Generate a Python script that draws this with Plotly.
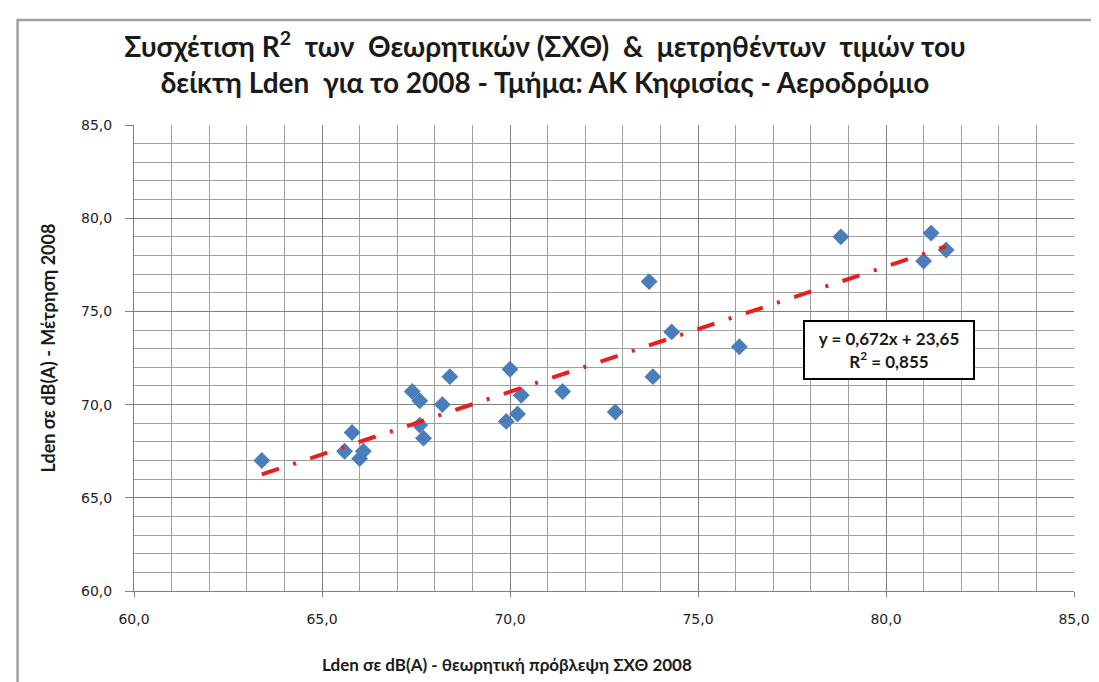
import plotly.graph_objects as go

# theoretical prediction (x) vs measured (y), Lden 2008
x_theory = [63.4, 65.6, 65.8, 66.0, 66.1, 67.4, 67.6, 67.6, 67.7, 68.2,
            68.4, 69.9, 70.0, 70.2, 70.3, 71.4, 72.8, 73.7, 73.8, 74.3,
            76.1, 78.8, 81.0, 81.2, 81.6]
y_measured = [67.0, 67.5, 68.5, 67.1, 67.5, 70.7, 70.2, 68.9, 68.2, 70.0,
              71.5, 69.1, 71.9, 69.5, 70.5, 70.7, 69.6, 76.6, 71.5, 73.9,
              73.1, 79.0, 77.7, 79.2, 78.3]

slope = 0.672
intercept = 23.65
r2 = 0.855

tick_vals = [60, 65, 70, 75, 80, 85]

# plot area in page pixels
W, H = 1099, 682
L, R, T, B = 125.5, 1066, 117, 583


def px(x):
    return (x - L) / (R - L)


def py(y):
    return (B - y) / (B - T)


x_line = [min(x_theory), max(x_theory)]
y_line = [slope * v + intercept for v in x_line]

fig = go.Figure()

fig.add_trace(go.Scatter(
    x=x_theory, y=y_measured, mode='markers',
    marker=dict(symbol='diamond', size=13, color='#4a7ebb'),
    showlegend=False
))

fig.add_trace(go.Scatter(
    x=x_line, y=y_line, mode='lines',
    line=dict(color='#ee1c1c', width=4, dash='18px,15px,3px,15px'),
    showlegend=False
))

axis_common = dict(
    range=[60, 85],
    tickvals=tick_vals,
    tickformat='.1f',
    showgrid=True,
    gridcolor='#808080',
    gridwidth=1,
    minor=dict(dtick=1, showgrid=True, gridcolor='#a0a0a0', gridwidth=1),
    showline=True,
    linecolor='#808080',
    linewidth=1,
    ticks='outside',
    tickcolor='#808080',
    tickfont=dict(family='DejaVu Sans', size=14, color='#1e1e1e'),
    zeroline=False,
    mirror=False,
)

fig.update_xaxes(**axis_common, ticklen=5, ticklabelstandoff=10)
fig.update_yaxes(**axis_common, ticklen=8, ticklabelstandoff=10)

nb = '\u00a0'
title_text = (f'Συσχέτιση R<sup>2</sup>{nb} των{nb} Θεωρητικών (ΣΧΘ){nb} &{nb} '
              f'μετρηθέντων{nb} τιμών του<br>'
              f'δείκτη Lden{nb} για το 2008 - Τμήμα: ΑΚ Κηφισίας - Αεροδρόμιο')

fig.update_layout(
    width=W, height=H,
    margin=dict(l=L, r=W - R, t=T, b=H - B),
    paper_bgcolor='white',
    plot_bgcolor='white',
    separators=',.',
    title=dict(
        text=title_text,
        x=537 / W, xanchor='center',
        y=1 - 49 / H, yanchor='middle',
        font=dict(family='Lato', size=28, color='#1a1a1a', weight='bold'),
    ),
    shapes=[dict(
        type='rect', xref='paper', yref='paper',
        x0=px(9), y0=py(12), x1=px(1120), y1=py(720),
        line=dict(color='#a0a0a0', width=2.5),
        fillcolor='rgba(0,0,0,0)', layer='below'
    )],
    annotations=[
        dict(
            text='Lden σε dB(A) - Μέτρηση 2008',
            xref='paper', yref='paper', x=px(26), y=py(340),
            textangle=-90, showarrow=False,
            font=dict(family='Lato', size=18, color='#1a1a1a', weight='bold'),
        ),
        dict(
            text='Lden σε dB(A) - θεωρητική πρόβλεψη ΣΧΘ 2008',
            xref='paper', yref='paper', x=px(499), y=py(669),
            showarrow=False,
            font=dict(family='Lato', size=17, color='#1a1a1a', weight='bold'),
        ),
        dict(
            text=f'y = {slope:.3f}x + {intercept:.2f}'.replace('.', ',')
                 + f'<br>R<sup>2</sup> = {r2:.3f}'.replace('.', ','),
            x=80.07, y=72.95, xref='x', yref='y',
            width=158, height=46,
            showarrow=False, align='center',
            bgcolor='white', bordercolor='black', borderwidth=2, borderpad=5,
            font=dict(family='Lato', size=17, color='#1a1a1a', weight='bold'),
        ),
    ],
)

fig.write_html('out.html')
